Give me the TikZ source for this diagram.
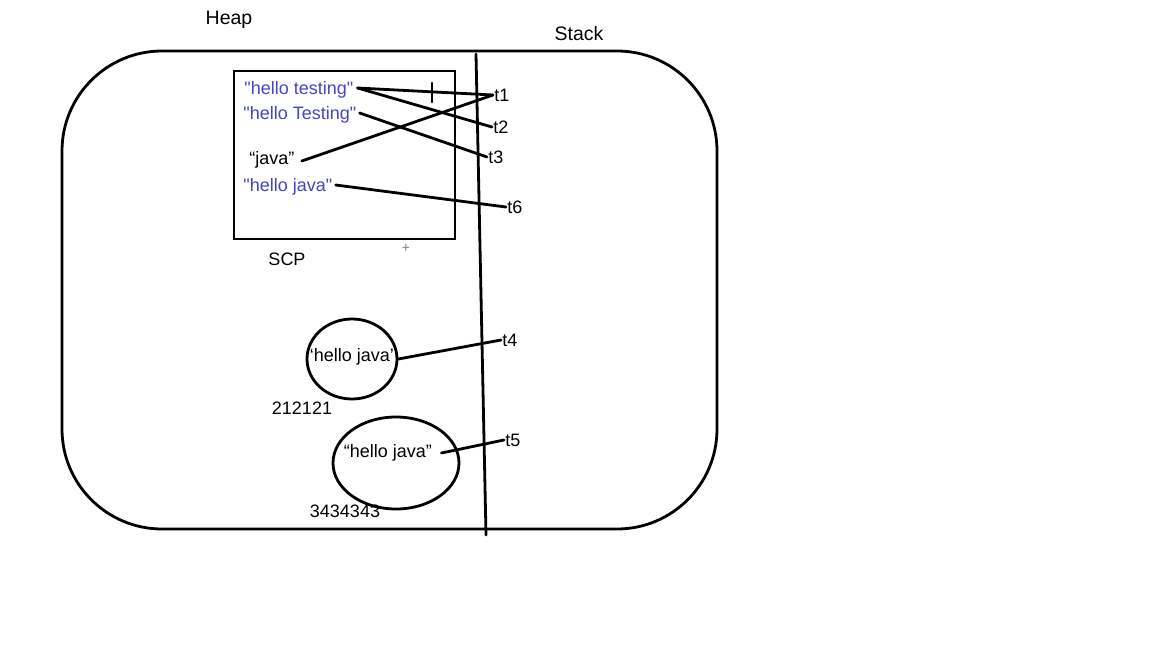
\documentclass[tikz,border=0pt]{standalone}
\usepackage{fontspec}
\setmainfont{Liberation Sans}
\usetikzlibrary{shapes.geometric}
\definecolor{scpblue}{RGB}{68,68,204}
\newcommand\sq{\XeTeXglyph\XeTeXcharglyph"22\relax}
\begin{document}
\begin{tikzpicture}[x=1pt,y=-1pt, line width=2.8pt, line cap=round,
  lbl/.style={inner sep=0pt, font=\fontsize{18}{21}\selectfont},
  ttl/.style={inner sep=0pt, font=\fontsize{19.5}{22}\selectfont},
  blu/.style={lbl, text=scpblue}]
\useasboundingbox (0,0) rectangle (1152,648);
% titles
\node[ttl] (heap) at (229,20) {Heap};
\node[ttl] (stack) at (579,34) {Stack};
% heap area
\node[draw, rounded corners=100pt, minimum width=655pt, minimum height=478pt, inner sep=0pt] (heapbox) at (389.5,290) {};
% stack divider
\coordinate (stop) at (476,54);
\coordinate (sbot) at (486,535);
\draw (stop) -- (sbot);
% SCP
\node[draw, minimum width=221pt, minimum height=168pt, inner sep=0pt] (scp) at (344.5,155) {};
\node[lbl] (scplbl) at (287,259) {SCP};
\node[inner sep=0pt, text=gray, font=\fontsize{14}{15}\selectfont] (plus) at (406,248) {+};
\node[blu, anchor=west] (s1) at (243,90) {\sq hello testing\sq};
\node[blu, anchor=west] (s2) at (242,115) {\sq hello Testing\sq};
\node[lbl, anchor=west] (s3) at (248,160) {“java”};
\node[blu, anchor=west] (s4) at (242,187) {\sq hello java\sq};
% stack refs
\node[lbl, anchor=west] (t1) at (493,95) {t1};
\node[lbl, anchor=west] (t2) at (492,127) {t2};
\node[lbl, anchor=west] (t3) at (487,157) {t3};
\node[lbl, anchor=west] (t6) at (506,207) {t6};
\node[lbl, anchor=west] (t4) at (501,340) {t4};
\node[lbl, anchor=west] (t5) at (504,440) {t5};
% links from SCP strings
\draw ([xshift=3pt,yshift=2pt]s1.east) -- (t1.west);
\draw ([xshift=3pt,yshift=2pt]s1.east) -- (t2.west);
\draw ([xshift=2pt,yshift=2pt]s2.east) -- (t3.west);
\draw ([xshift=6pt,yshift=-1pt]s3.east) -- (t1.west);
\draw ([xshift=2pt,yshift=2pt]s4.east) -- (t6.west);
% cross mark
\coordinate (ctop) at (432,83);
\coordinate (cbot) at (432,102);
\draw (ctop) -- (cbot);
% heap objects
\node[draw, ellipse, minimum width=90pt, minimum height=80pt, inner sep=0pt] (e1) at (352,359) {};
\node[lbl] (e1t) at (352,357) {‘hello java’};
\node[lbl] (n1) at (302,408) {212121};
\draw (e1.east) -- (t4.west);
\node[draw, ellipse, minimum width=126pt, minimum height=92pt, inner sep=0pt] (e2) at (396,463) {};
\node[lbl] (e2t) at (388,453) {“hello java”};
\node[lbl] (n2) at (345,511) {3434343};
\draw ([xshift=8pt]e2t.east) -- (t5.west);
\end{tikzpicture}
\end{document}
